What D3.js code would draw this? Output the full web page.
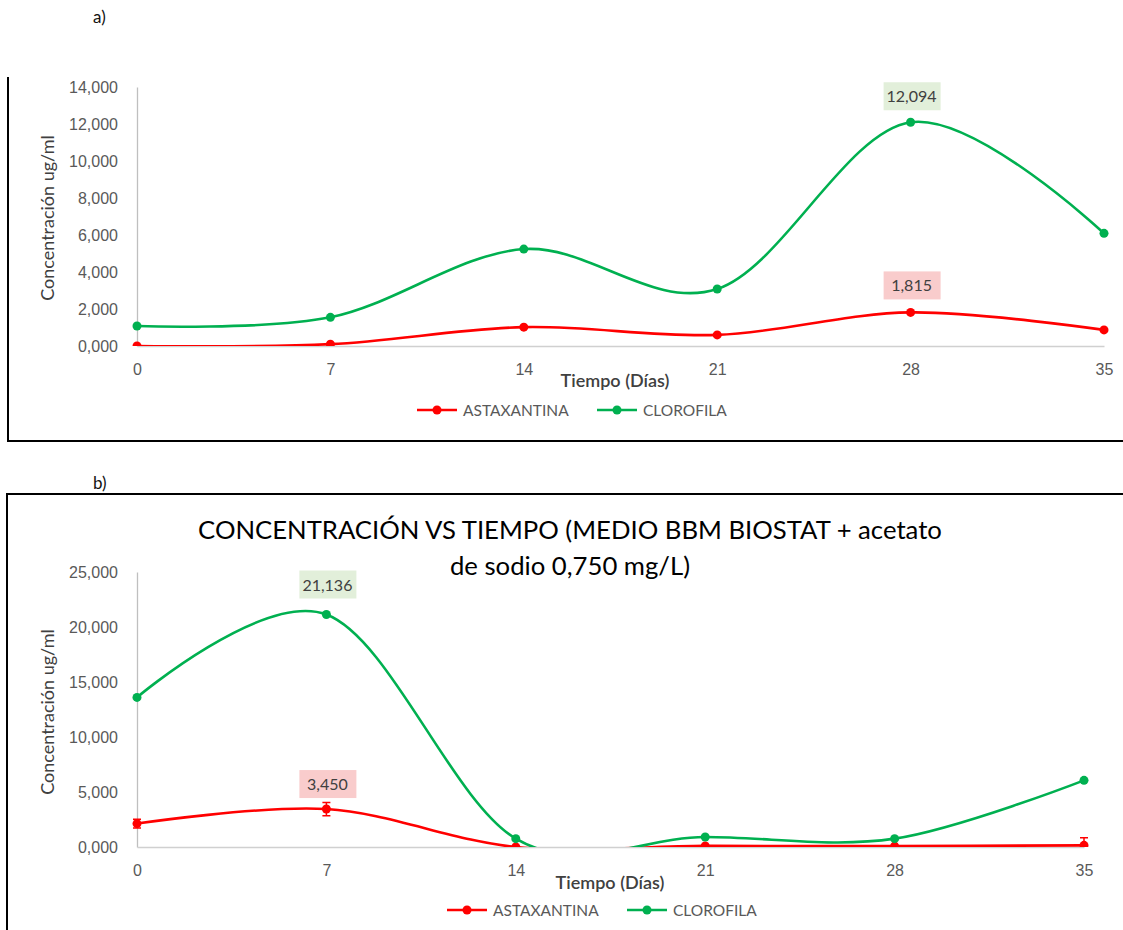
<!DOCTYPE html>
<html>
<head>
<meta charset="utf-8">
<script src="https://cdn.jsdelivr.net/npm/d3@7"></script>
<style>
  body { margin: 0; background: #fff; }
  svg { display: block; font-family: Lato, "Open Sans", sans-serif; }
  .tick text { fill: #595959; font-size: 16px; }
  .axis-title { fill: #404040; }
  .legend text { fill: #595959; font-size: 15.5px; }
  .frame { stroke: #000; stroke-width: 2; fill: none; }
</style>
</head>
<body>
<svg id="chart" width="1123" height="930"></svg>
<script>
// days on x axis
const days = [0, 7, 14, 21, 28, 35];

// panel a
const astaA = [0, 0.1, 1.02, 0.6, 1.815, 0.87];
const cloroA = [1.08, 1.55, 5.24, 3.08, 12.094, 6.09];
const ticksA = [0, 2, 4, 6, 8, 10, 12, 14];

// panel b
const astaB = [2.13, 3.45, 0, 0.1, 0.08, 0.15];
const astaBerr = [0.4, 0.6, 0, 0, 0, 0.7];
const cloroB = [13.6, 21.136, 0.76, 0.91, 0.76, 6.06];
const ticksB = [0, 5, 10, 15, 20, 25];

const seriesNames = ["ASTAXANTINA", "CLOROFILA"];
const colors = { ASTAXANTINA: "#ff0000", CLOROFILA: "#00b050" };
const labelFill = { ASTAXANTINA: "#f9cccc", CLOROFILA: "#e2efda" };

const locale = d3.formatLocale({ decimal: ",", thousands: ".", grouping: [3], currency: ["", ""] });
const fmt = locale.format(".3f");

const svg = d3.select("#chart");

// outer frames copied from the document page
svg.append("path").attr("class", "frame").attr("d", "M8,77V441H1123");
svg.append("path").attr("class", "frame").attr("d", "M7,930V494H1123");
svg.append("text").attr("x", 93).attr("y", 23).attr("font-size", 17).attr("fill", "#111").text("a)");
svg.append("text").attr("x", 93).attr("y", 489).attr("font-size", 17).attr("fill", "#111").text("b)");

function drawPanel(opt) {
    const g = svg.append("g");
    const x = d3.scaleLinear().domain([0, 35]).range([opt.left, opt.right]);
    const y = d3.scaleLinear().domain([0, opt.max]).range([opt.bottom, opt.top]);
    const clipId = "clip-" + opt.id;

    g.append("clipPath").attr("id", clipId)
        .append("rect")
        .attr("x", opt.left - 10).attr("y", opt.top - 10)
        .attr("width", opt.right - opt.left + 20).attr("height", opt.bottom - opt.top + 10);

    // axes
    const yAxis = g.append("g").attr("transform", `translate(${opt.left},0)`)
        .call(d3.axisLeft(y).tickValues(opt.ticks).tickFormat(fmt).tickSize(0).tickPadding(19));
    yAxis.select(".domain").attr("stroke", "#bfbfbf").attr("stroke-width", 1.3);
    const xAxis = g.append("g").attr("transform", `translate(0,${opt.bottom})`)
        .call(d3.axisBottom(x).tickValues(days).tickSize(0).tickPadding(18));
    xAxis.select(".domain").attr("stroke", "#d0d0d0").attr("stroke-width", 1.3);

    g.append("text").attr("class", "axis-title")
        .attr("x", opt.xTitle[0]).attr("y", opt.xTitle[1])
        .attr("text-anchor", "middle").attr("font-weight", 600).attr("font-size", 18)
        .text("Tiempo (Días)");
    g.append("text").attr("class", "axis-title")
        .attr("transform", `translate(${opt.yTitle[0]},${opt.yTitle[1]}) rotate(-90)`)
        .attr("text-anchor", "middle").attr("font-size", 18)
        .text("Concentración ug/ml");

    const line = d3.line()
        .x((d, i) => x(days[i]))
        .y(d => y(d))
        .curve(d3.curveCardinal.tension(0));

    const plot = g.append("g").attr("clip-path", `url(#${clipId})`);
    opt.series.forEach(s => {
        const c = colors[s.name];
        plot.append("path").datum(s.values)
            .attr("d", line).attr("fill", "none")
            .attr("stroke", c).attr("stroke-width", 2.6);
        if (s.err) {
            s.values.forEach((v, i) => {
                if (!s.err[i]) return;
                const cx = x(days[i]);
                const y1 = y(v + s.err[i]), y0 = y(Math.max(0, v - s.err[i]));
                plot.append("path")
                    .attr("d", `M${cx},${y0}V${y1}M${cx - 4},${y1}H${cx + 4}` + (v - s.err[i] >= 0 ? `M${cx - 4},${y0}H${cx + 4}` : ""))
                    .attr("stroke", c).attr("stroke-width", 1.5).attr("fill", "none");
            });
        }
        plot.selectAll(null).data(s.values).join("circle")
            .attr("cx", (d, i) => x(days[i])).attr("cy", d => y(d))
            .attr("r", 4.5).attr("fill", c);
    });

    // data labels on the peaks
    opt.labels.forEach(l => {
        const s = opt.series.find(d => d.name === l.name);
        const v = s.values[l.index];
        const cx = x(days[l.index]), cy = y(v) - l.dy;
        g.append("rect")
            .attr("x", cx - 27).attr("y", cy - 14)
            .attr("width", 57).attr("height", 28)
            .attr("fill", labelFill[l.name]);
        g.append("text").attr("x", cx + 1).attr("y", cy + 6)
            .attr("text-anchor", "middle").attr("fill", "#404040").attr("font-size", 16)
            .text(fmt(v));
    });

    // legend
    const lg = g.append("g").attr("class", "legend");
    seriesNames.forEach((name, i) => {
        const lx = opt.legend[i], ly = opt.legendY;
        lg.append("line").attr("x1", lx).attr("x2", lx + 40).attr("y1", ly).attr("y2", ly)
            .attr("stroke", colors[name]).attr("stroke-width", 2.6);
        lg.append("circle").attr("cx", lx + 20).attr("cy", ly).attr("r", 4.5).attr("fill", colors[name]);
        lg.append("text").attr("x", lx + 46).attr("y", ly + 5.5).text(name);
    });
    return g;
}

drawPanel({
    id: "a", left: 137, right: 1104, top: 87, bottom: 346, max: 14, ticks: ticksA,
    series: [{ name: "ASTAXANTINA", values: astaA }, { name: "CLOROFILA", values: cloroA }],
    labels: [{ name: "CLOROFILA", index: 4, dy: 26 }, { name: "ASTAXANTINA", index: 4, dy: 27 }],
    xTitle: [615, 387], yTitle: [54, 218], legend: [417, 597], legendY: 410
});

drawPanel({
    id: "b", left: 137, right: 1084, top: 572, bottom: 847, max: 25, ticks: ticksB,
    series: [{ name: "ASTAXANTINA", values: astaB, err: astaBerr }, { name: "CLOROFILA", values: cloroB }],
    labels: [{ name: "CLOROFILA", index: 1, dy: 30 }, { name: "ASTAXANTINA", index: 1, dy: 25 }],
    xTitle: [610, 889], yTitle: [54, 712], legend: [447, 627], legendY: 910
});

// panel b title
const title = svg.append("text").attr("text-anchor", "middle").attr("fill", "#000").attr("font-size", 25.7);
title.append("tspan").attr("x", 570).attr("y", 539).text("CONCENTRACIÓN VS TIEMPO (MEDIO BBM BIOSTAT + acetato");
title.append("tspan").attr("x", 570).attr("y", 575).text("de sodio 0,750 mg/L)");
</script>
</body>
</html>
